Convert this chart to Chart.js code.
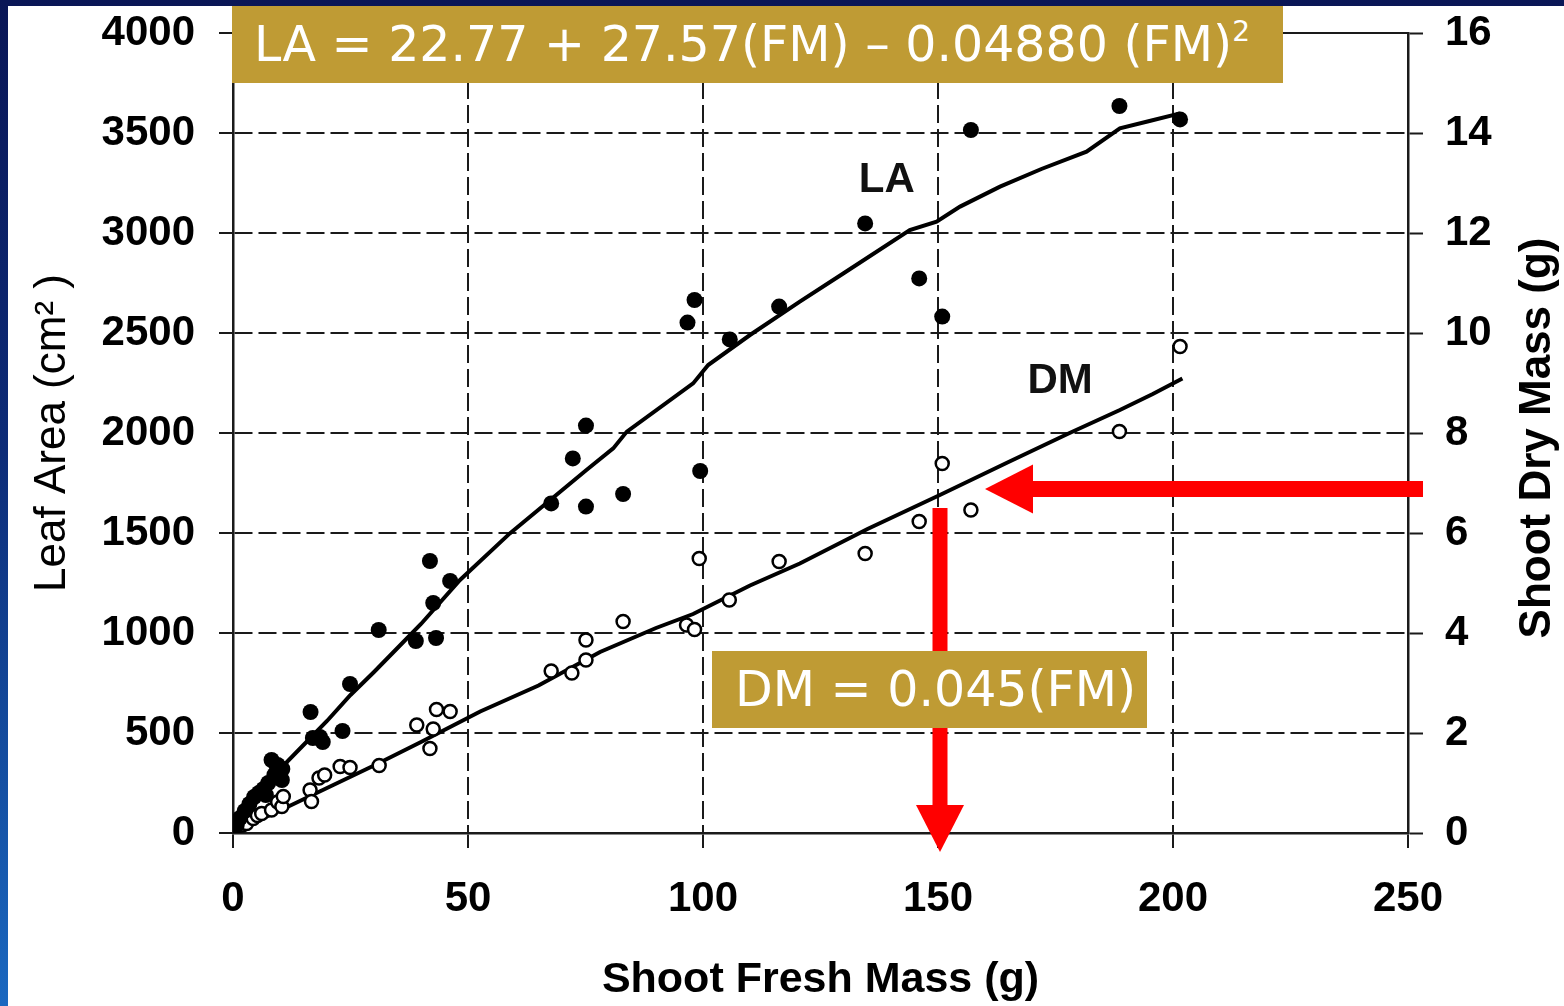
<!DOCTYPE html>
<html>
<head>
<meta charset="utf-8">
<title>Leaf area and dry mass vs shoot fresh mass</title>
<script src="https://cdn.jsdelivr.net/npm/chart.js@4.4.1/dist/chart.umd.min.js"></script>
<style>
  html, body { margin: 0; padding: 0; }
  body {
    width: 1564px; height: 1006px; overflow: hidden; position: relative;
    background: linear-gradient(to bottom, #0a1656 0%, #0d2c78 45%, #1a68c0 100%);
  }
  #panel { position: absolute; left: 8px; top: 6px; width: 1556px; height: 1000px; background: #fff; }
  #chart { position: absolute; left: 0; top: 0; }
  .eqn {
    position: absolute; background: #bf9b34; color: #fff;
    font-family: "DejaVu Sans", Verdana, sans-serif; font-size: 49px;
    line-height: 77px; height: 77px; white-space: nowrap; box-sizing: border-box;
  }
  #eqnLA { left: 232px; top: 6px; width: 1051px; padding-left: 22px; }
  #eqnDM { left: 712px; top: 651px; width: 435px; padding-left: 23px; }
  .eqn sup { font-size: 28px; vertical-align: 20px; line-height: 0; }
</style>
</head>
<body>
<div id="panel"></div>
<canvas id="chart" width="1564" height="1006"></canvas>
<div class="eqn" id="eqnLA">LA = 22.77 + 27.57(FM) – 0.04880 (FM)<sup>2</sup></div>
<div class="eqn" id="eqnDM">DM = 0.045(FM)</div>

<script>
// measured plants: shoot fresh mass (g) vs leaf area (cm2)
const laFM = [0.8, 1.5, 2.5, 3.5, 4.5, 5.5, 6.5, 7.0, 7.5, 8.2, 8.8, 9.3, 9.5, 10.4, 10.5,
  16.5, 17.0, 18.5, 19.1, 23.3, 24.9, 31.0, 38.9, 41.9, 42.6, 43.2, 46.2,
  67.7, 72.3, 75.1, 75.1, 83.0, 96.7, 98.2, 99.4, 105.7, 116.2,
  134.5, 146.0, 150.9, 157.0, 188.6, 201.5];
const laValues = [40, 75, 110, 145, 180, 200, 220, 190, 250, 365, 290, 335, 340, 265, 320,
  605, 475, 480, 455, 510, 745, 1015, 960, 1360, 1150, 975, 1260,
  1648, 1873, 2037, 1632, 1695, 2552, 2665, 1810, 2468, 2632,
  3048, 2773, 2582, 3515, 3635, 3568];

// same plants: shoot fresh mass (g) vs shoot dry mass (g)
const dmFM = [0.8, 2.0, 2.9, 4.3, 5.2, 6.1, 8.2, 9.5, 10.4, 10.7,
  16.4, 16.7, 18.3, 19.5, 22.8, 24.9, 31.1, 39.1, 41.9, 42.6, 43.3, 46.2,
  67.7, 72.1, 75.1, 75.1, 83.0, 96.5, 98.2, 99.2, 105.6, 116.2,
  134.5, 146.0, 150.9, 157.0, 188.6, 201.5];
const dmValues = [0.13, 0.16, 0.19, 0.29, 0.35, 0.39, 0.46, 0.62, 0.53, 0.73,
  0.86, 0.63, 1.10, 1.16, 1.33, 1.31, 1.35, 2.16, 1.69, 2.08, 2.47, 2.43,
  3.24, 3.20, 3.46, 3.86, 4.23, 4.16, 4.07, 5.49, 4.66, 5.43,
  5.59, 6.23, 7.39, 6.46, 8.03, 9.73];

// fitted curves as plotted
const laFitFM = [0.5, 5, 10, 15, 20, 25, 30, 35, 40, 48.3, 58.9, 75.2, 80.9, 83.8, 97.9, 101.1,
  110, 120.6, 130, 144, 149.7, 154.7, 163.2, 172, 181.6, 188.7, 195, 201.5];
const laFitValues = [40, 165, 320, 440, 560, 690, 805, 925, 1045, 1265, 1498, 1815, 1923, 2007, 2248, 2340,
  2490, 2657, 2800, 3015, 3057, 3132, 3232, 3320, 3407, 3523, 3560, 3598];
const dmFitFM = [0, 10, 20, 30, 40, 52.6, 65, 78.1, 90, 97.9, 110, 120.6, 135, 150.4, 165, 178, 188.7, 195.7, 202];
const dmFitValues = [0.02, 0.45, 0.9, 1.35, 1.82, 2.43, 2.95, 3.62, 4.1, 4.38, 4.95, 5.39, 6.08, 6.76, 7.42, 8.0, 8.46, 8.78, 9.09];

const fmTicks = [0, 50, 100, 150, 200, 250];
const laTicks = [0, 500, 1000, 1500, 2000, 2500, 3000, 3500, 4000];
const dmTicks = [0, 2, 4, 6, 8, 10, 12, 14, 16];

const FONT = '"Liberation Sans", Arial, sans-serif';
const INK = '#1a1a1a';

const toXY = (xs, ys) => xs.map((x, i) => ({ x: x, y: ys[i] }));
const setTicks = (list) => (axis) => { axis.ticks = list.map(v => ({ value: v })); };
const plain = (v) => String(v);
// grid lines dashed, outer frame lines solid
const dashUnless = (ends) => (c) => (c.tick && ends.includes(c.tick.value)) ? [] : [18, 6];
// fixed axis sizes, and no extra room for the end labels
const fixWidth = (w) => (a) => { a.width = w; a.paddingTop = 0; a.paddingBottom = 0; };
const fixHeight = (h) => (a) => { a.height = h; a.paddingLeft = 0; a.paddingRight = 0; };

// red pointer arrows, curve names and the right axis title
const arrowPlugin = {
  id: 'arrows',
  afterDatasetsDraw(chart) {
    const { ctx, chartArea, scales } = chart;
    const x = scales.x, yL = scales.y, yR = scales.y2;
    ctx.save();
    ctx.fillStyle = '#ff0000';

    // horizontal arrow from the right axis to the DM curve
    const hy = yR.getPixelForValue(6.88);
    const tipX = x.getPixelForValue(160);
    ctx.fillRect(tipX + 46, hy - 8, chartArea.right + 15 - (tipX + 46), 16);
    ctx.beginPath();
    ctx.moveTo(tipX, hy);
    ctx.lineTo(tipX + 48, hy - 24.5);
    ctx.lineTo(tipX + 48, hy + 24.5);
    ctx.closePath();
    ctx.fill();

    // vertical arrow down to FM = 150
    const vx = x.getPixelForValue(150) + 2;
    const top = yR.getPixelForValue(6.5);
    const tipY = chartArea.bottom + 19;
    ctx.fillRect(vx - 7.5, top, 15, tipY - 45 - top);
    ctx.beginPath();
    ctx.moveTo(vx, tipY);
    ctx.lineTo(vx - 24, tipY - 47);
    ctx.lineTo(vx + 24, tipY - 47);
    ctx.closePath();
    ctx.fill();

    ctx.fillStyle = '#111';
    ctx.font = 'bold 42px ' + FONT;
    ctx.textAlign = 'center';
    ctx.textBaseline = 'middle';
    ctx.fillText('LA', x.getPixelForValue(139.1), yL.getPixelForValue(3265));
    ctx.fillText('DM', x.getPixelForValue(176), yR.getPixelForValue(9.04));

    // right axis title reads bottom to top, like the left one
    ctx.fillStyle = '#000';
    ctx.font = 'bold 44px ' + FONT;
    ctx.translate(chart.width - 26, (chartArea.top + chartArea.bottom) / 2 + 5);
    ctx.rotate(-Math.PI / 2);
    ctx.fillText('Shoot Dry Mass (g)', 0, 0);
    ctx.restore();
  }
};

new Chart(document.getElementById('chart'), {
  type: 'scatter',
  data: {
    datasets: [
      {
        label: 'LA',
        data: toXY(laFM, laValues),
        yAxisID: 'y',
        pointRadius: 8,
        pointBackgroundColor: '#000',
        pointBorderWidth: 0
      },
      {
        label: 'DM',
        data: toXY(dmFM, dmValues),
        yAxisID: 'y2',
        pointRadius: 6.5,
        pointBackgroundColor: '#fff',
        pointBorderColor: '#000',
        pointBorderWidth: 2.5
      },
      {
        label: 'LA fit',
        data: toXY(laFitFM, laFitValues),
        yAxisID: 'y',
        showLine: true,
        pointRadius: 0,
        borderColor: '#000',
        borderWidth: 4
      },
      {
        label: 'DM fit',
        data: toXY(dmFitFM, dmFitValues),
        yAxisID: 'y2',
        showLine: true,
        pointRadius: 0,
        borderColor: '#000',
        borderWidth: 4
      }
    ]
  },
  options: {
    responsive: false,
    animation: false,
    devicePixelRatio: 1,
    layout: { autoPadding: false, padding: { left: 8, top: 33, right: 0, bottom: 0 } },
    plugins: { legend: { display: false }, tooltip: { enabled: false } },
    scales: {
      x: {
        type: 'linear', min: 0, max: 250,
        afterBuildTicks: setTicks(fmTicks),
        afterFit: fixHeight(173),
        grid: { color: INK, lineWidth: 2, tickLength: 15, tickColor: INK, tickWidth: 2 },
        border: { color: INK, width: 2.5, dash: dashUnless([0, 250]) },
        ticks: { color: '#000', padding: 26, maxRotation: 0, callback: plain, font: { family: FONT, size: 42, weight: 'bold' } },
        title: {
          display: true, text: 'Shoot Fresh Mass (g)', color: '#000',
          padding: { top: 0, bottom: 0 }, font: { family: FONT, size: 43, weight: 'bold' }
        }
      },
      y: {
        type: 'linear', position: 'left', min: 0, max: 4000,
        afterBuildTicks: setTicks(laTicks),
        afterFit: fixWidth(225),
        grid: { color: INK, lineWidth: 2, tickLength: 14, tickColor: INK, tickWidth: 2 },
        border: { color: INK, width: 2.5, dash: dashUnless([0, 4000]) },
        ticks: { color: '#000', padding: 24, callback: plain, font: { family: FONT, size: 42, weight: 'bold' } },
        title: {
          display: true, text: 'Leaf Area (cm² )', color: '#000',
          padding: { top: 18, bottom: 0 }, font: { family: FONT, size: 44, weight: 'normal' }
        }
      },
      y2: {
        type: 'linear', position: 'right', min: 0, max: 16,
        afterBuildTicks: setTicks(dmTicks),
        afterFit: fixWidth(156),
        grid: { drawOnChartArea: false, tickLength: 15, tickColor: INK, tickWidth: 2 },
        border: { color: INK, width: 2.5 },
        ticks: { color: '#000', padding: 22, callback: plain, font: { family: FONT, size: 42, weight: 'bold' } },
        title: { display: false }
      }
    }
  },
  plugins: [arrowPlugin]
});
</script>
</body>
</html>
